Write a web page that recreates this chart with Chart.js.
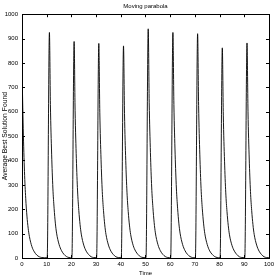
<!DOCTYPE html>
<html>
<head>
<meta charset="utf-8">
<script src="https://cdn.jsdelivr.net/npm/chart.js@4/dist/chart.umd.min.js"></script>
<style>
  html, body { margin: 0; padding: 0; background: #fff; }
  #wrap { width: 277px; height: 277px; }
</style>
</head>
<body>
<div id="wrap"><canvas id="myChart" width="277" height="277"></canvas></div>
<script>
const chartTitle = 'Moving parabola';
const xTitle = 'Time';
const yTitle = 'Average Best Solution Found';
const xTicks = [0, 10, 20, 30, 40, 50, 60, 70, 80, 90, 100];
const yTicks = [0, 100, 200, 300, 400, 500, 600, 700, 800, 900, 1000];

// time of each sample
const time = [
    0, 0.5, 1, 1.5, 2, 2.5, 3, 4, 5, 6, 7, 8, 9,
    10.2, 11.1, 11.5, 12, 12.5, 13, 13.5, 14, 15, 16, 17, 18, 19,
    20.2, 21.1, 21.5, 22, 22.5, 23, 23.5, 24, 25, 26, 27, 28, 29,
    30.2, 31.1, 31.5, 32, 32.5, 33, 33.5, 34, 35, 36, 37, 38, 39,
    40.2, 41.1, 41.5, 42, 42.5, 43, 43.5, 44, 45, 46, 47, 48, 49,
    50.2, 51.1, 51.5, 52, 52.5, 53, 53.5, 54, 55, 56, 57, 58, 59,
    60.2, 61.1, 61.5, 62, 62.5, 63, 63.5, 64, 65, 66, 67, 68, 69,
    70.2, 71.1, 71.5, 72, 72.5, 73, 73.5, 74, 75, 76, 77, 78, 79,
    80.2, 81.1, 81.5, 82, 82.5, 83, 83.5, 84, 85, 86, 87, 88, 89,
    90.2, 91.1, 91.5, 92, 92.5, 93, 93.5, 94, 95, 96, 97, 98, 99,
    100
];
// average best solution found at each sample
const bestFound = [
    780, 530, 355, 245, 172, 122, 88, 47, 25, 12, 5, 2, 1,
    1, 925, 629, 426, 287, 204, 143, 102, 56, 30, 15, 6, 2,
    1, 888, 604, 408, 275, 195, 138, 98, 53, 28, 14, 5, 2,
    1, 880, 598, 405, 273, 194, 136, 97, 53, 28, 14, 5, 2,
    1, 870, 592, 400, 270, 191, 135, 96, 52, 28, 14, 5, 2,
    1, 940, 639, 432, 291, 207, 146, 103, 56, 30, 15, 6, 2,
    1, 925, 629, 426, 287, 204, 143, 102, 56, 30, 15, 6, 2,
    1, 920, 626, 423, 285, 202, 143, 101, 55, 29, 15, 6, 2,
    1, 862, 586, 397, 267, 190, 134, 95, 52, 28, 14, 5, 2,
    1, 882, 600, 406, 273, 194, 137, 97, 53, 28, 14, 5, 2,
    1
];

const family = '"Liberation Sans", Arial, sans-serif';
const tickFont = { family: family, size: 6 };
const titleFont = { family: family, size: 6, weight: 'normal' };
const yTitleFont = { family: family, size: 6.8, weight: 'normal' };

// box around the plot and inward tick marks, matlab style
const frame = {
    id: 'frame',
    afterDraw(chart) {
        const c = chart.ctx;
        const a = chart.chartArea;
        c.save();
        c.strokeStyle = '#000';
        c.lineWidth = 1;
        c.strokeRect(Math.round(a.left) + 0.5, Math.round(a.top) + 0.5,
            Math.round(a.right - a.left), Math.round(a.bottom - a.top));
        c.beginPath();
        chart.scales.x.ticks.forEach(t => {
            const px = Math.round(chart.scales.x.getPixelForValue(t.value)) + 0.5;
            c.moveTo(px, a.bottom); c.lineTo(px, a.bottom - 3);
            c.moveTo(px, a.top); c.lineTo(px, a.top + 3);
        });
        chart.scales.y.ticks.forEach(t => {
            const py = Math.round(chart.scales.y.getPixelForValue(t.value)) + 0.5;
            c.moveTo(a.left, py); c.lineTo(a.left + 3, py);
            c.moveTo(a.right, py); c.lineTo(a.right - 3, py);
        });
        c.stroke();
        c.restore();
    }
};

const ctx = document.getElementById('myChart').getContext('2d');
new Chart(ctx, {
    type: 'line',
    data: {
        datasets: [{
            data: time.map((t, i) => ({ x: t, y: bestFound[i] })),
            borderColor: '#000',
            borderWidth: 0.9,
            pointRadius: 0,
            cubicInterpolationMode: 'monotone'
        }]
    },
    options: {
        responsive: false,
        animation: false,
        layout: { padding: { left: 0, right: 8, top: 0, bottom: 0 } },
        plugins: {
            legend: { display: false },
            tooltip: { enabled: false },
            title: {
                display: true, text: chartTitle, color: '#000', font: titleFont,
                fullSize: false, padding: { top: 3, bottom: 4 }
            }
        },
        scales: {
            x: {
                type: 'linear', min: 0, max: 100,
                afterBuildTicks: s => { s.ticks = xTicks.map(v => ({ value: v })); },
                afterFit: s => { s.height = 19; },
                grid: { display: false, drawTicks: false },
                border: { display: false },
                ticks: { color: '#000', font: tickFont, padding: 3, maxRotation: 0, callback: v => String(v) },
                title: { display: true, text: xTitle, color: '#000', font: titleFont, padding: 0 }
            },
            y: {
                min: 0, max: 1000,
                afterBuildTicks: s => { s.ticks = yTicks.map(v => ({ value: v })); },
                afterFit: s => { s.width = 22; },
                grid: { display: false, drawTicks: false },
                border: { display: false },
                ticks: { color: '#000', font: tickFont, padding: 4, callback: v => String(v) },
                title: { display: true, text: yTitle, color: '#000', font: yTitleFont, padding: { top: 1, bottom: 0 } }
            }
        }
    },
    plugins: [frame]
});
</script>
</body>
</html>
